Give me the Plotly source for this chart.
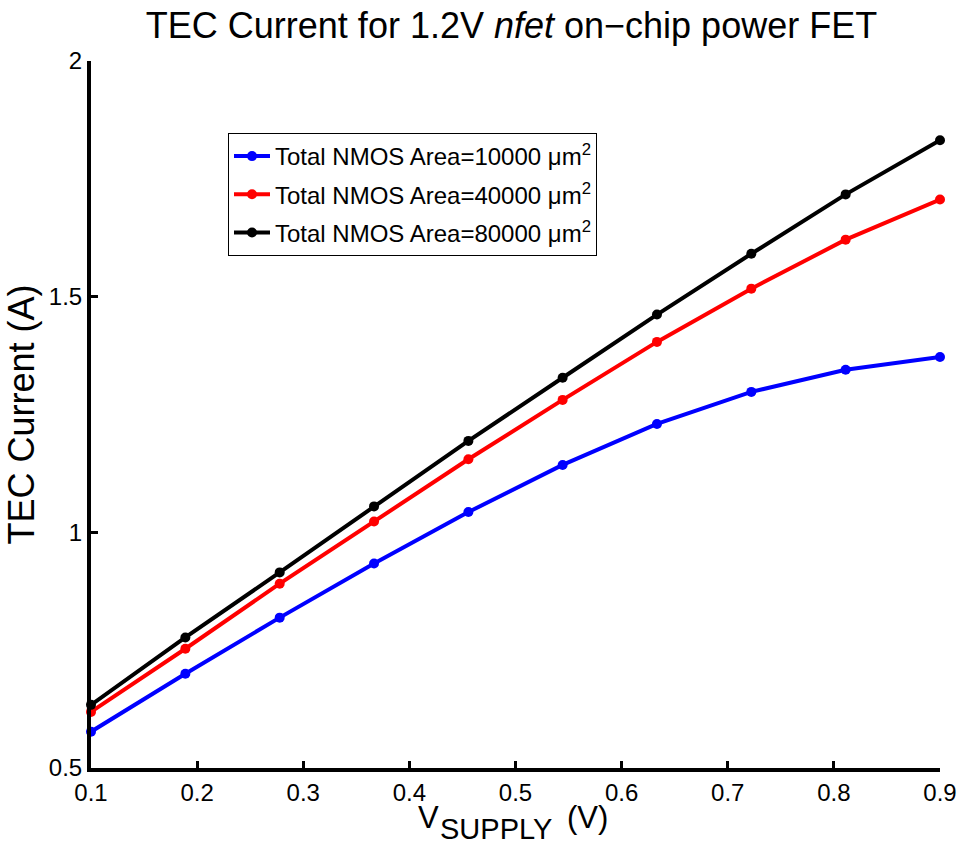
import plotly.graph_objects as go

v_supply = [0.1, 0.1889, 0.2778, 0.3667, 0.4556, 0.5444, 0.6333, 0.7222, 0.8111, 0.9]
area_10000 = [0.577, 0.700, 0.819, 0.934, 1.043, 1.143, 1.230, 1.298, 1.345, 1.372]
area_40000 = [0.619, 0.753, 0.891, 1.023, 1.155, 1.281, 1.404, 1.517, 1.621, 1.706]
area_80000 = [0.634, 0.777, 0.915, 1.055, 1.194, 1.328, 1.462, 1.591, 1.717, 1.832]

x_ticks = [0.1, 0.2, 0.3, 0.4, 0.5, 0.6, 0.7, 0.8, 0.9]
x_tick_text = ["0.1", "0.2", "0.3", "0.4", "0.5", "0.6", "0.7", "0.8", "0.9"]
y_ticks = [0.5, 1.0, 1.5, 2.0]
y_tick_text = ["0.5", "1", "1.5", "2"]

series = [
    ("Total NMOS Area=10000 μm<sup>2</sup>", area_10000, "#0000ff"),
    ("Total NMOS Area=40000 μm<sup>2</sup>", area_40000, "#ff0000"),
    ("Total NMOS Area=80000 μm<sup>2</sup>", area_80000, "#000000"),
]

FONT = "Liberation Sans, Arial, Helvetica, sans-serif"

# plot area in pixels
L, R, T, B = 91, 940, 61, 768
W, H = 960, 846


def py(p):
    """pixel row -> paper y"""
    return (B - p) / (B - T)


def px(p):
    return (p - L) / (R - L)


fig = go.Figure()
for i, (name, ys, col) in enumerate(series):
    fig.add_trace(go.Scatter(
        x=v_supply, y=ys, mode="lines+markers", name=name,
        legendgroup=f"g{i}",
        line=dict(color=col, width=4),
        marker=dict(color=col, size=10),
        cliponaxis=False,
    ))

fig.update_layout(
    width=W, height=H,
    margin=dict(l=L, r=W - R, t=T, b=H - B, autoexpand=False),
    paper_bgcolor="white", plot_bgcolor="white",
    font=dict(family=FONT, color="black", size=22),
    title=dict(
        text="TEC Current for 1.2V <i>nfet</i> on\u2212chip power FET",
        x=511.5 / W, xref="container", xanchor="center",
        y=1 - 25 / H, yref="container", yanchor="middle",
        font=dict(size=36, family=FONT),
    ),
    showlegend=True,
    legend=dict(
        x=px(228), y=py(133), xanchor="left", yanchor="top",
        bgcolor="white", bordercolor="black", borderwidth=1,
        font=dict(size=24, family=FONT),
        itemwidth=36, tracegroupgap=4,
    ),
    xaxis=dict(
        range=[0.1, 0.9], showgrid=False, zeroline=False, automargin=False,
        showline=True, linecolor="black", linewidth=4,
        ticks="inside", ticklen=7, tickwidth=3, tickcolor="black",
        tickvals=x_ticks, ticktext=x_tick_text,
        tickfont=dict(size=24), ticklabelstandoff=0,
    ),
    yaxis=dict(
        range=[0.5, 2.0], showgrid=False, zeroline=False, automargin=False,
        showline=True, linecolor="black", linewidth=4,
        ticks="inside", ticklen=7, tickwidth=3, tickcolor="black",
        tickvals=y_ticks, ticktext=y_tick_text,
        tickfont=dict(size=24), ticklabelstandoff=0,
        title=dict(text="TEC Current (A)", font=dict(size=36), standoff=4),
    ),
)

# x-axis title: V with a large subscript, as in the reference
fig.add_annotation(text="V", xref="paper", yref="paper", x=px(416), y=py(817),
                   xanchor="left", yanchor="middle", showarrow=False,
                   font=dict(size=31, family=FONT))
fig.add_annotation(text="SUPPLY", xref="paper", yref="paper", x=px(438), y=py(829),
                   xanchor="left", yanchor="middle", showarrow=False,
                   font=dict(size=29, family=FONT))
fig.add_annotation(text="(V)", xref="paper", yref="paper", x=px(565), y=py(817),
                   xanchor="left", yanchor="middle", showarrow=False,
                   font=dict(size=31, family=FONT))

fig.write_html("out.html")
